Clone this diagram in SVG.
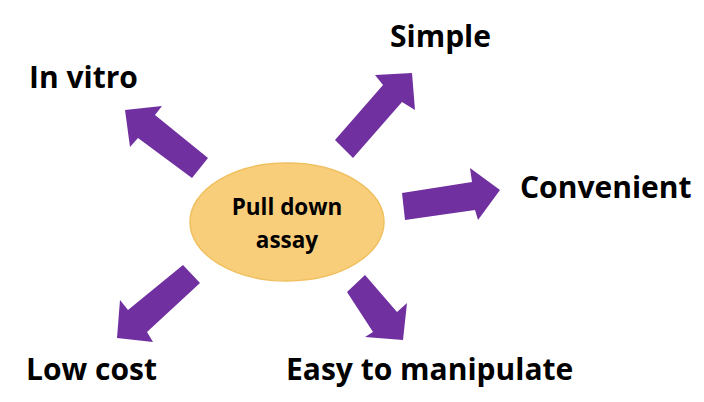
<svg xmlns="http://www.w3.org/2000/svg" width="704" height="402" viewBox="0 0 704 402">
<style>
.arrow{fill:#7030A0;stroke:none}
.lbl{font-family:"Open Sans","Liberation Sans",sans-serif;font-weight:bold;font-size:30px;fill:#000}
.ctr{font-family:"Open Sans","Liberation Sans",sans-serif;font-weight:bold;font-size:22.5px;fill:#000;text-anchor:middle}
</style>
<rect width="704" height="402" fill="#fff"/>
<g id="connectors">
<polygon class="arrow" points="125,110 162,106 155,115 208,158 192,178 138,138 130,147"/>
<polygon class="arrow" points="412,73 375,75 383,85 335,140 353,158 402,102 415,110"/>
<polygon class="arrow" points="500,190 470,168 472,182 402,193 405,220 475,210 478,220"/>
<polygon class="arrow" points="117,338 120,300 128,310 183,265 200,283 147,332 153,342"/>
<polygon class="arrow" points="403,340 407,303 397,312 365,275 347,292 373,332 365,337"/>
</g>
<g id="center">
<ellipse cx="287" cy="222" rx="97" ry="59" fill="#F9CE7B" stroke="#F0C060" stroke-width="1.5"/>
<text class="ctr" x="287" y="215">Pull down</text>
<text class="ctr" x="287" y="248">assay</text>
</g>
<g id="invitro"><text class="lbl" x="29" y="88">In vitro</text></g>
<g id="simple"><text class="lbl" x="390" y="47">Simple</text></g>
<g id="convenient"><text class="lbl" x="520" y="198">Convenient</text></g>
<g id="lowcost"><text class="lbl" x="26" y="380">Low cost</text></g>
<g id="easy"><text class="lbl" x="286" y="380">Easy to manipulate</text></g>
</svg>
